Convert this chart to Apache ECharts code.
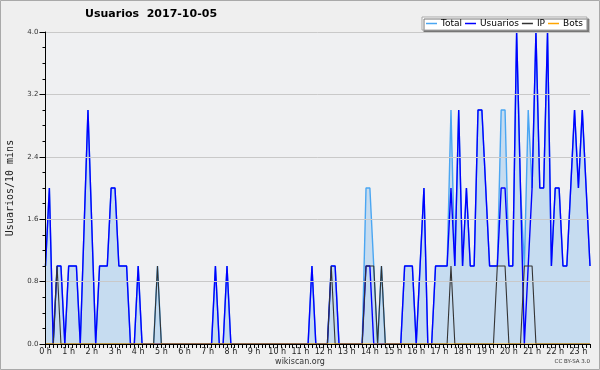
<!DOCTYPE html>
<html>
<head>
<meta charset="utf-8">
<script src="https://cdn.jsdelivr.net/npm/echarts@6/dist/echarts.min.js"></script>
<style>
html,body{margin:0;padding:0;background:#efefef;}
#chart{width:600px;height:370px;}
</style>
</head>
<body>
<div id="chart"></div>
<script>
// ---- data (10-minute buckets, 00:00 .. 23:30) ----
const hourLabels = ['0 h','1 h','2 h','3 h','4 h','5 h','6 h','7 h','8 h','9 h','10 h','11 h',
  '12 h','13 h','14 h','15 h','16 h','17 h','18 h','19 h','20 h','21 h','22 h','23 h'];
const minuteLabels = ['00','10','20','30','40','50'];
const yTickLabels = ['0.0','0.8','1.6','2.4','3.2','4.0'];
const seriesNames = ['Total','Usuarios','IP','Bots'];

const usuarios = [
  1,2,0,1,1,0,   1,1,1,0,1.5,3,   1.5,0,1,1,1,2,   2,1,1,1,0,0,
  1,0,0,0,0,0,   0,0,0,0,0,0,     0,0,0,0,0,0,     0,0,1,0,0,1,
  0,0,0,0,0,0,   0,0,0,0,0,0,     0,0,0,0,0,0,     0,0,0,1,0,0,
  0,0,1,1,0,0,   0,0,0,0,0,1,     1,0,0,0,0,0,     0,0,0,1,1,1,
  0,1,2,0,0,1,   1,1,1,2,1,3,     1,2,1,1,3,3,     2,1,1,1,2,2,
  1,1,4,2,0,1,   2,4,2,2,4,1,     2,2,1,1,2,3,     2,3,2,1
];
const total = [
  1,2,0,1,1,0,   1,1,1,0,1.5,3,   1.5,0,1,1,1,2,   2,1,1,1,0,0,
  1,0,0,0,0,1,   0,0,0,0,0,0,     0,0,0,0,0,0,     0,0,1,0,0,1,
  0,0,0,0,0,0,   0,0,0,0,0,0,     0,0,0,0,0,0,     0,0,0,1,0,0,
  0,0,1,1,0,0,   0,0,0,0,0,2,     2,1,0,1,0,0,     0,0,0,1,1,1,
  0,1,2,0,0,1,   1,1,1,3,1,3,     1,2,1,1,3,3,     2,1,1,1,3,3,
  1,1,4,2,1,3,   2,4,2,2,4,1,     2,2,1,1,2,3,     2,3,2,1
];
const ip = [
  0,0,0,1,0,0,   0,0,0,0,0,0,     0,0,0,0,0,0,     0,0,0,0,0,0,
  0,0,0,0,0,1,   0,0,0,0,0,0,     0,0,0,0,0,0,     0,0,0,0,0,0,
  0,0,0,0,0,0,   0,0,0,0,0,0,     0,0,0,0,0,0,     0,0,0,0,0,0,
  0,0,1,0,0,0,   0,0,0,0,0,1,     1,1,0,1,0,0,     0,0,0,0,0,0,
  0,0,0,0,0,0,   0,0,0,1,0,0,     0,0,0,0,0,0,     0,0,0,1,1,1,
  0,0,0,0,1,1,   1,0,0,0,0,0,     0,0,0,0,0,0,     0,0,0,0
];
const bots = [
  0,0,0,0,0,0,   0,0,0,0,0,0,     0,0,0,0,0,0,     0,0,0,0,0,0,
  0,0,0,0,0,0,   0,0,0,0,0,0,     0,0,0,0,0,0,     0,0,0,0,0,0,
  0,0,0,0,0,0,   0,0,0,0,0,0,     0,0,0,0,0,0,     0,0,0,0,0,0,
  0,0,0,0,0,0,   0,0,0,0,0,0,     0,0,0,0,0,0,     0,0,0,0,0,0,
  0,0,0,0,0,0,   0,0,0,0,0,0,     0,0,0,0,0,0,     0,0,0,0,0,0,
  0,0,0,0,0,0,   0,0,0,0,0,0,     0,0,0,0,0,0,     0,0,0,0
];

const categories = [];
for (let i = 0; i < usuarios.length; i++) {
  categories.push(Math.floor(i / 6) + ':' + minuteLabels[i % 6]);
}

const chart = echarts.init(document.getElementById('chart'), null, {renderer: 'canvas'});
const FONT = 'DejaVu Sans';
const option = {
  animation: false,
  backgroundColor: '#efefef',
  title: {
    text: 'Usuarios  2017-10-05',
    left: 85, top: 9, padding: 0,
    textStyle: {fontFamily: FONT, fontWeight: 'bold', fontSize: 11, color: '#000'}
  },
  legend: {
    data: seriesNames,
    left: 422, top: 17,
    orient: 'horizontal',
    icon: 'rect',
    itemWidth: 11, itemHeight: 1.5,
    itemGap: 3,
    padding: [2, 4, 2, 4],
    backgroundColor: '#ffffff',
    borderColor: '#a8a8a8', borderWidth: 1,
    shadowColor: '#777777', shadowOffsetX: 2, shadowOffsetY: 2, shadowBlur: 0,
    textStyle: {fontFamily: FONT, fontSize: 9, color: '#000', padding: [0, 0, 0, -1]}
  },
  grid: {
    left: 45.5, right: 10, top: 32, bottom: 26,
    show: true, backgroundColor: '#eff0f2', borderWidth: 0
  },
  xAxis: {
    type: 'category',
    data: categories,
    boundaryGap: false,
    z: 5,
    axisLine: {lineStyle: {color: '#000', width: 1}},
    axisTick: {interval: 0, length: 4, lineStyle: {color: '#000', width: 1}},
    axisLabel: {
      interval: 5, margin: 4,
      fontFamily: FONT, fontSize: 8, color: '#222',
      formatter: function (v, idx) { return hourLabels[Math.round(idx / 6)]; }
    },
    splitLine: {show: false}
  },
  yAxis: {
    type: 'value', min: 0, max: 4, interval: 0.8,
    z: 4,
    axisLine: {show: true, lineStyle: {color: '#000', width: 1}},
    axisTick: {show: true, length: 6, lineStyle: {color: '#000'}},
    minorTick: {show: true, splitNumber: 4, length: 3, lineStyle: {color: '#000'}},
    axisLabel: {
      margin: 7, fontFamily: FONT, fontSize: 7, color: '#333',
      formatter: function (v) { return yTickLabels[Math.round(v / 0.8)]; }
    },
    splitLine: {lineStyle: {color: '#c9c9c9', width: 1}}
  },
  series: [
    {
      name: seriesNames[0], type: 'line', data: total, symbol: 'none',
      color: '#4aa6f2',
      lineStyle: {color: '#4aa6f2', width: 1.4},
      areaStyle: {color: '#c6dcf0', opacity: 1},
      z: 2
    },
    {
      name: seriesNames[1], type: 'line', data: usuarios, symbol: 'none',
      color: '#0000ff',
      lineStyle: {color: '#0000ff', width: 1.4},
      z: 2
    },
    {
      name: seriesNames[2], type: 'line', data: ip, symbol: 'none',
      color: '#333333',
      lineStyle: {color: '#333333', width: 1.1},
      z: 2
    },
    {
      name: seriesNames[3], type: 'line', data: bots, symbol: 'none',
      color: '#ffa500',
      lineStyle: {color: '#ffa500', width: 1.1},
      z: 2
    }
  ],
  graphic: [
    {
      type: 'text', x: 10, y: 188, rotation: Math.PI / 2,
      style: {text: 'Usuarios/10 mins', fontFamily: 'DejaVu Sans Mono', fontSize: 10,
        fill: '#222', align: 'center', verticalAlign: 'middle'}
    },
    {
      type: 'text', x: 300, y: 362,
      style: {text: 'wikiscan.org', fontFamily: FONT, fontSize: 8, fill: '#333',
        align: 'center', verticalAlign: 'middle'}
    },
    {
      type: 'text', x: 590, y: 362,
      style: {text: 'CC BY-SA 3.0', fontFamily: FONT, fontSize: 5.5, fill: '#333',
        align: 'right', verticalAlign: 'middle'}
    },
    {
      type: 'rect', shape: {x: 0.5, y: 0.5, width: 599, height: 369},
      style: {fill: 'none', stroke: '#a9a9a9', lineWidth: 1}, silent: true
    }
  ]
};
chart.setOption(option);
</script>
</body>
</html>
